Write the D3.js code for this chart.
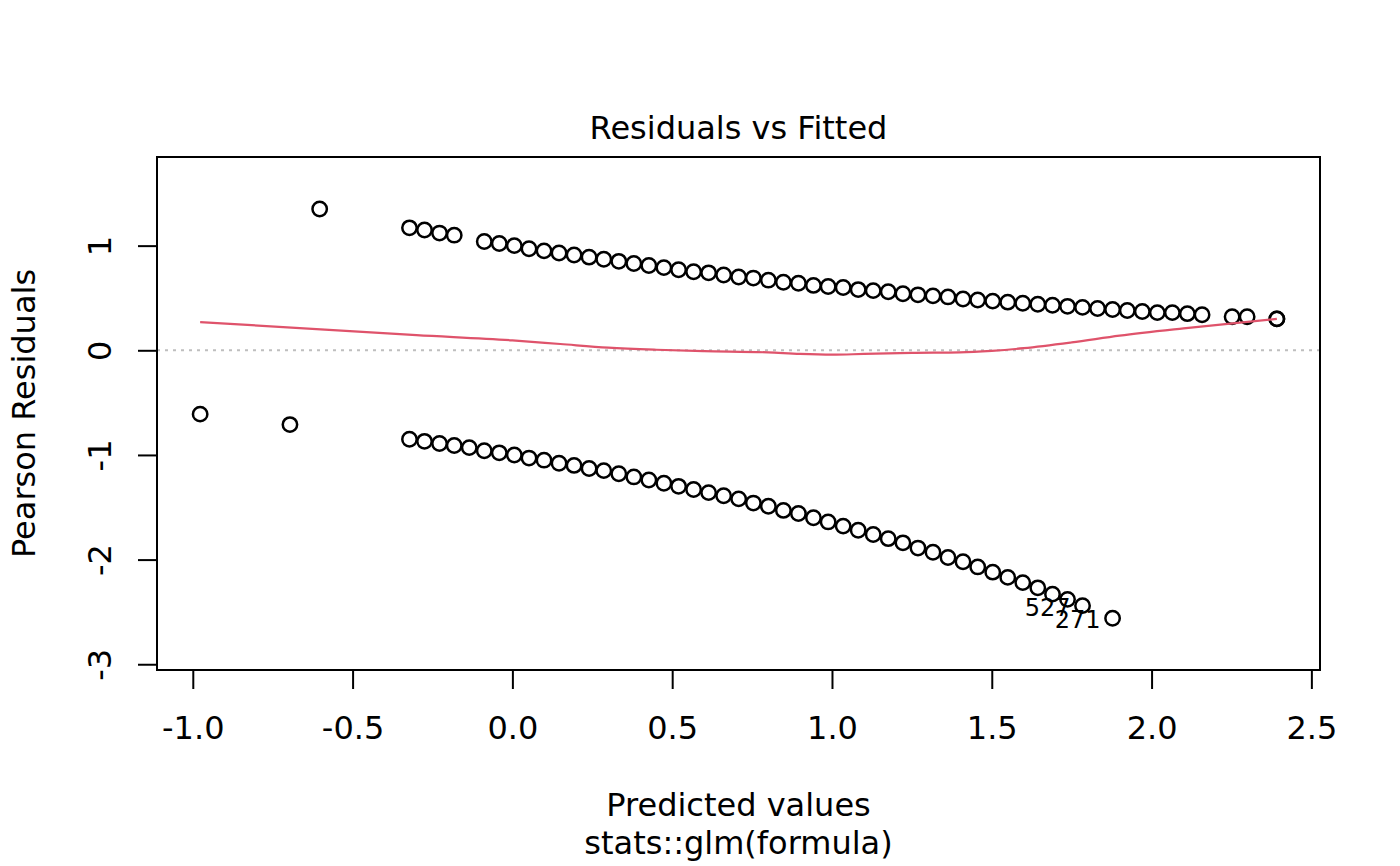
<!DOCTYPE html>
<html>
<head>
<meta charset="utf-8">
<script src="https://cdn.jsdelivr.net/npm/d3@7"></script>
<style>
  body { margin: 0; background: #fff; }
  svg { display: block; }
</style>
</head>
<body>
<svg id="chart" width="1400" height="866"></svg>
<script>
'use strict';

// fitted (linear predictor) and pearson residuals
var upperX = [-0.603, -0.322, -0.275, -0.228, -0.182, -0.088, -0.041, 0.006, 0.052, 0.099,
  0.146, 0.193, 0.240, 0.286, 0.333, 0.380, 0.427, 0.474, 0.520, 0.567,
  0.614, 0.661, 0.708, 0.754, 0.801, 0.848, 0.895, 0.942, 0.988, 1.035,
  1.082, 1.129, 1.176, 1.222, 1.269, 1.316, 1.363, 1.410, 1.456, 1.503,
  1.550, 1.597, 1.644, 1.690, 1.737, 1.784, 1.831, 1.878, 1.924, 1.971,
  2.018, 2.065, 2.112, 2.158, 2.252, 2.299, 2.392, 2.392];
var upperY = [1.35, 1.17, 1.15, 1.12, 1.10, 1.04, 1.02, 1.00, 0.97, 0.95,
  0.93, 0.91, 0.89, 0.87, 0.85, 0.83, 0.81, 0.79, 0.77, 0.75,
  0.74, 0.72, 0.70, 0.69, 0.67, 0.65, 0.64, 0.62, 0.61, 0.60,
  0.58, 0.57, 0.56, 0.54, 0.53, 0.52, 0.51, 0.49, 0.48, 0.47,
  0.46, 0.45, 0.44, 0.43, 0.42, 0.41, 0.40, 0.39, 0.38, 0.37,
  0.36, 0.36, 0.35, 0.34, 0.32, 0.32, 0.30, 0.30];

var lowerX = [-0.977, -0.696, -0.322, -0.275, -0.228, -0.182, -0.135, -0.088, -0.041, 0.006,
  0.052, 0.099, 0.146, 0.193, 0.240, 0.286, 0.333, 0.380, 0.427, 0.474,
  0.520, 0.567, 0.614, 0.661, 0.708, 0.754, 0.801, 0.848, 0.895, 0.942,
  0.988, 1.035, 1.082, 1.129, 1.176, 1.222, 1.269, 1.316, 1.363, 1.410,
  1.456, 1.503, 1.550, 1.597, 1.644, 1.690, 1.737, 1.784, 1.878];
var lowerY = [-0.61, -0.71, -0.85, -0.87, -0.89, -0.91, -0.93, -0.96, -0.98, -1.00,
  -1.03, -1.05, -1.08, -1.10, -1.13, -1.15, -1.18, -1.21, -1.24, -1.27,
  -1.30, -1.33, -1.36, -1.39, -1.42, -1.46, -1.49, -1.53, -1.56, -1.60,
  -1.64, -1.68, -1.72, -1.76, -1.80, -1.84, -1.89, -1.93, -1.98, -2.02,
  -2.07, -2.12, -2.17, -2.22, -2.27, -2.33, -2.38, -2.44, -2.56];

// smoother (red line)
var smoothX = [-0.977, -0.6, -0.3, 0.0, 0.15, 0.3, 0.45, 0.6, 0.8, 0.9, 1.0, 1.1, 1.25, 1.4, 1.5, 1.6, 1.75, 1.9, 2.1, 2.392];
var smoothY = [0.27, 0.20, 0.145, 0.095, 0.06, 0.025, 0.005, -0.008, -0.02, -0.035, -0.042, -0.035, -0.025, -0.02, -0.005, 0.02, 0.075, 0.14, 0.21, 0.30];

// labelled observations
var idLabels = ["527", "271"];
var idX = [1.784, 1.878];
var idY = [-2.44, -2.56];

var xTicks = [-1.0, -0.5, 0.0, 0.5, 1.0, 1.5, 2.0, 2.5];
var yTicks = [-3, -2, -1, 0, 1];

var FONT = "DejaVu Sans";
var boxL = 157, boxR = 1320, boxT = 157, boxB = 670;

var svg = d3.select("#chart");

var x = d3.scaleLinear().domain([-1.112, 2.527]).range([boxL, boxR]);
var y = d3.scaleLinear().domain([-3.055, 1.847]).range([boxB, boxT]);

// zero reference line
svg.append("line")
  .attr("x1", boxL).attr("x2", boxR)
  .attr("y1", y(0)).attr("y2", y(0))
  .attr("stroke", "#bebebe")
  .attr("stroke-width", 2)
  .attr("stroke-dasharray", "3,5");

// points
var pts = upperX.map(function(v, i) { return [v, upperY[i]]; })
  .concat(lowerX.map(function(v, i) { return [v, lowerY[i]]; }));

svg.append("g").selectAll("circle")
  .data(pts)
  .enter().append("circle")
    .attr("cx", function(d) { return x(d[0]); })
    .attr("cy", function(d) { return y(d[1]); })
    .attr("r", 7.2)
    .attr("fill", "none")
    .attr("stroke", "#000")
    .attr("stroke-width", 2.5);

// smoother
var line = d3.line()
  .x(function(d, i) { return x(smoothX[i]); })
  .y(function(d) { return y(d); })
  .curve(d3.curveMonotoneX);

svg.append("path")
  .attr("d", line(smoothY))
  .attr("fill", "none")
  .attr("stroke", "#DF536B")
  .attr("stroke-width", 2.2);

// id labels, to the left of the point
svg.append("g").selectAll("text")
  .data(idLabels)
  .enter().append("text")
    .attr("x", function(d, i) { return x(idX[i]) - 12; })
    .attr("y", function(d, i) { return y(idY[i]) + 10; })
    .attr("text-anchor", "end")
    .attr("font-family", FONT)
    .attr("font-size", 24)
    .text(function(d) { return d; });

// box
svg.append("rect")
  .attr("x", boxL).attr("y", boxT)
  .attr("width", boxR - boxL).attr("height", boxB - boxT)
  .attr("fill", "none")
  .attr("stroke", "#000")
  .attr("stroke-width", 2);

// x axis
var gx = svg.append("g")
  .attr("transform", "translate(0," + boxB + ")")
  .call(d3.axisBottom(x).tickValues(xTicks).tickSize(19));
gx.select(".domain").remove();
gx.selectAll(".tick line").attr("stroke-width", 2);
gx.selectAll(".tick text")
  .attr("y", 69).attr("dy", null)
  .attr("font-family", FONT).attr("font-size", 32)
  .text(function(d) { return d3.format(".1f")(d).replace("\u2212", "-"); });

// y axis
var gy = svg.append("g")
  .attr("transform", "translate(" + boxL + ",0)")
  .call(d3.axisLeft(y).tickValues(yTicks).tickSize(19));
gy.select(".domain").remove();
gy.selectAll(".tick line").attr("stroke-width", 2);
gy.selectAll(".tick text")
  .attr("x", 0).attr("dy", null)
  .attr("transform", "translate(-46,0) rotate(-90)")
  .attr("text-anchor", "middle")
  .attr("font-family", FONT).attr("font-size", 32)
  .text(function(d) { return String(d); });

// titles
svg.append("text")
  .attr("x", (boxL + boxR) / 2).attr("y", 139)
  .attr("text-anchor", "middle")
  .attr("font-family", FONT).attr("font-size", 32)
  .text("Residuals vs Fitted");

svg.append("text")
  .attr("x", (boxL + boxR) / 2).attr("y", 816)
  .attr("text-anchor", "middle")
  .attr("font-family", FONT).attr("font-size", 32)
  .text("Predicted values");

svg.append("text")
  .attr("x", (boxL + boxR) / 2).attr("y", 854)
  .attr("text-anchor", "middle")
  .attr("font-family", FONT).attr("font-size", 32)
  .text("stats::glm(formula)");

svg.append("text")
  .attr("transform", "translate(35," + (boxT + boxB) / 2 + ") rotate(-90)")
  .attr("text-anchor", "middle")
  .attr("font-family", FONT).attr("font-size", 32)
  .text("Pearson Residuals");
</script>
</body>
</html>
